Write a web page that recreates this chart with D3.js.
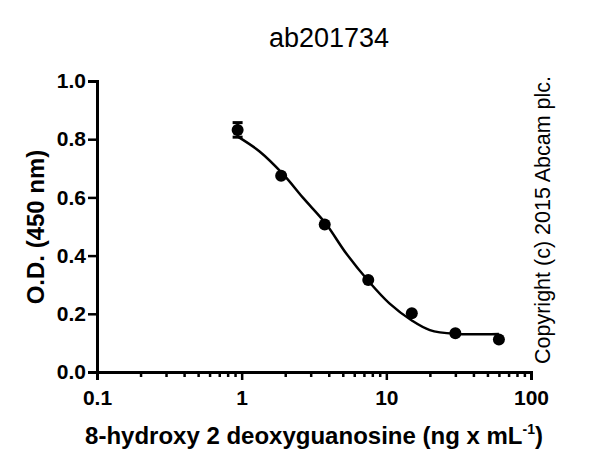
<!DOCTYPE html>
<html>
<head>
<meta charset="utf-8">
<script src="https://cdn.jsdelivr.net/npm/d3@7"></script>
<style>
  body { margin: 0; background: #fff; }
  svg { font-family: Arial, "Liberation Sans", sans-serif; }
</style>
</head>
<body>
<div id="chart"></div>
<script>
"use strict";

// concentrations (ng/mL) and measured O.D.
let conc = [0.9375, 1.875, 3.75, 7.5, 15, 30, 60];
let od = [0.832, 0.674, 0.507, 0.316, 0.202, 0.133, 0.112];
let odErr = [0.025, 0, 0, 0, 0, 0, 0];

// fitted curve
let fitX = [0.94, 1.33, 1.94, 2.65, 3.8, 5.27, 7.6, 10.5, 15, 20, 30, 60];
let fitY = [0.809, 0.758, 0.679, 0.599, 0.511, 0.408, 0.31, 0.236, 0.177, 0.144, 0.131, 0.131];

let xTicks = [0.1, 1, 10, 100];
let yTicks = [0.0, 0.2, 0.4, 0.6, 0.8, 1.0];

let svg = d3.select("#chart")
    .append("svg")
    .attr("width", 600)
    .attr("height", 471);

let x = d3.scaleLog().domain([0.1, 100]).range([97, 531]);
let y = d3.scaleLinear().domain([0, 1]).range([372, 81]);

// minor ticks on log axis
let minor = [];
for (let d = 0.1; d < 100; d *= 10) {
    for (let k = 2; k <= 9; k++) minor.push(d * k);
}

svg.append("g")
    .attr("transform", "translate(0,372)")
    .call(d3.axisBottom(x).tickValues(xTicks).tickFormat(d => String(d)).tickSize(8).tickPadding(10));

svg.append("g")
    .attr("transform", "translate(0,372)")
    .call(d3.axisBottom(x).tickValues(minor).tickFormat("").tickSize(5))
    .select(".domain").remove();

svg.append("g")
    .attr("transform", "translate(97,0)")
    .call(d3.axisLeft(y).tickValues(yTicks).tickFormat(d3.format(".1f")).tickSize(9).tickPadding(2));

svg.selectAll(".domain").attr("stroke-width", 3);
svg.selectAll(".tick line").attr("stroke-width", 2.5);
svg.selectAll(".tick text")
    .attr("font-size", 21)
    .attr("font-weight", "bold")
    .attr("fill", "#000")
    .attr("font-family", "Arial, 'Liberation Sans', sans-serif");

// fitted curve
let line = d3.line()
    .x((d, i) => x(fitX[i]))
    .y((d, i) => y(fitY[i]))
    .curve(d3.curveCatmullRom.alpha(0.5));

svg.append("path")
    .datum(fitX)
    .attr("d", line)
    .attr("fill", "none")
    .attr("stroke", "#000")
    .attr("stroke-width", 2.5);

// error bars
let bars = svg.append("g");
conc.forEach((c, i) => {
    if (odErr[i] <= 0) return;
    let cx = x(c);
    let yt = y(od[i] + odErr[i]), yb = y(od[i] - odErr[i]);
    bars.append("line").attr("x1", cx).attr("x2", cx).attr("y1", yt).attr("y2", yb)
        .attr("stroke", "#000").attr("stroke-width", 2.5);
    [yt, yb].forEach(yy => {
        bars.append("line").attr("x1", cx - 5).attr("x2", cx + 5).attr("y1", yy).attr("y2", yy)
            .attr("stroke", "#000").attr("stroke-width", 3);
    });
});

// points
svg.append("g").selectAll("circle")
    .data(conc)
    .join("circle")
    .attr("cx", d => x(d))
    .attr("cy", (d, i) => y(od[i]))
    .attr("r", 6)
    .attr("fill", "#000");

// title
svg.append("text")
    .attr("x", 329)
    .attr("y", 47)
    .attr("text-anchor", "middle")
    .attr("font-size", 27)
    .text("ab201734");

// y label
svg.append("text")
    .attr("transform", "translate(44,227) rotate(-90)")
    .attr("text-anchor", "middle")
    .attr("font-size", 24)
    .attr("font-weight", "bold")
    .text("O.D. (450 nm)");

// x label
let xl = svg.append("text")
    .attr("x", 314)
    .attr("y", 444)
    .attr("text-anchor", "middle")
    .attr("font-size", 24)
    .attr("font-weight", "bold");
xl.append("tspan").text("8-hydroxy 2 deoxyguanosine (ng x mL");
xl.append("tspan").attr("dy", -10).attr("font-size", 14).text("-1");
xl.append("tspan").attr("dy", 10).text(")");

// copyright
svg.append("text")
    .attr("transform", "translate(550,220) rotate(-90)")
    .attr("text-anchor", "middle")
    .attr("font-size", 21.5)
    .text("Copyright (c) 2015 Abcam plc.");
</script>
</body>
</html>
